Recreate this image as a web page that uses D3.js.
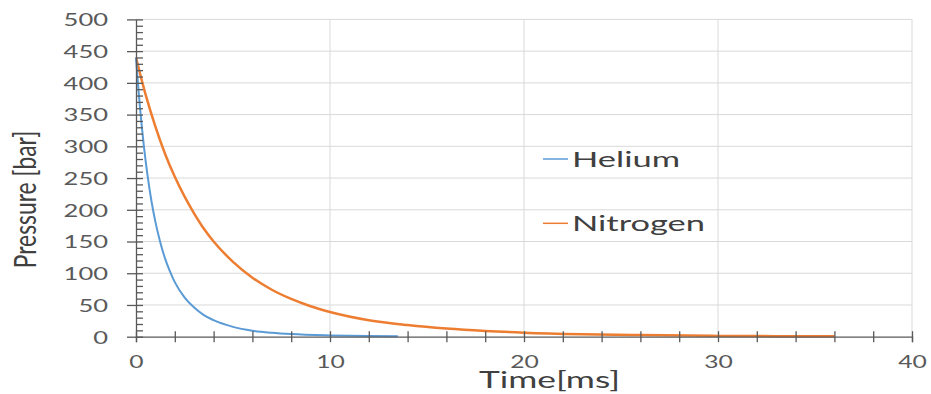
<!DOCTYPE html>
<html>
<head>
<meta charset="utf-8">
<script src="https://cdn.jsdelivr.net/npm/d3@7"></script>
<style>
  html, body { margin: 0; padding: 0; background: #ffffff; }
  svg { display: block; }
  text { font-family: Lato, "Open Sans", sans-serif; }
</style>
</head>
<body>
<svg id="chart" width="931" height="394"></svg>
<script>
// ---- data ----
const seriesNames = ["Helium", "Nitrogen"];
const heliumTime = [0, 0.1, 0.2, 0.3, 0.4, 0.6, 0.8, 1.0, 1.25, 1.5, 1.75, 2.0, 2.5, 3.0, 3.5, 4.0, 5.0, 6.0, 7.0, 8.0, 10.0, 12.0, 13.5];
const heliumPressure = [440, 399, 363, 331, 302, 253, 213, 181, 149, 123, 103, 86, 62, 46, 34, 26, 15.5, 9.5, 6.2, 4.1, 2.0, 1.0, 0.7];
const nitrogenTime = [0, 0.5, 1, 1.5, 2, 2.5, 3, 3.5, 4, 5, 6, 7, 8, 9, 10, 12, 14, 16, 18, 20, 23, 26, 30, 33, 36];
const nitrogenPressure = [440, 381, 331, 288, 252, 221, 194, 170, 150, 118, 93, 74, 59.5, 48, 39, 26, 18.3, 12.8, 9.0, 6.4, 4.0, 2.6, 1.3, 0.9, 0.6];
const xTickValues = [0, 2, 4, 6, 8, 10, 12, 14, 16, 18, 20, 22, 24, 26, 28, 30, 32, 34, 36, 38, 40];
const xTickLabels = ["0", "10", "20", "30", "40"];
const yTickLabels = ["0", "50", "100", "150", "200", "250", "300", "350", "400", "450", "500"];
const xTitle = "Time[ms]";
const yTitle = "Pressure [bar]";
const colors = ["#5B9BD5", "#ED7D31"];

// ---- layout ----
const svg = d3.select("#chart");
const x = d3.scaleLinear().domain([0, 40]).range([136, 912]);
const y = d3.scaleLinear().domain([0, 500]).range([336.7, 19.4]);
const axisColor = "#595959";
const textColor = "#595959";

svg.append("rect").attr("width", 931).attr("height", 394).attr("fill", "#fff");

// gridlines
const gridY = yTickLabels.map(Number).filter(v => v > 0);
svg.append("g").selectAll("line").data(gridY).join("line")
  .attr("x1", x(0)).attr("x2", x(40))
  .attr("y1", d => y(d)).attr("y2", d => y(d))
  .attr("stroke", "#d9d9d9").attr("stroke-width", 1);
const gridX = xTickLabels.map(Number).filter(v => v > 0);
svg.append("g").selectAll("line").data(gridX).join("line")
  .attr("x1", d => x(d)).attr("x2", d => x(d))
  .attr("y1", y(0)).attr("y2", y(500))
  .attr("stroke", "#d9d9d9").attr("stroke-width", 1);

// series
const line = d3.line().x(d => x(d[0])).y(d => y(d[1])).curve(d3.curveMonotoneX);
const heData = heliumTime.map((t, i) => [t, heliumPressure[i]]);
const n2Data = nitrogenTime.map((t, i) => [t, nitrogenPressure[i]]);
svg.append("path").datum(n2Data).attr("d", line)
  .attr("fill", "none").attr("stroke", colors[1]).attr("stroke-width", 2.5)
  .attr("stroke-linejoin", "round");
svg.append("path").datum(heData).attr("d", line)
  .attr("fill", "none").attr("stroke", colors[0]).attr("stroke-width", 2)
  .attr("stroke-linejoin", "round");

// x axis
const xLabelSet = new Set(xTickLabels.map(Number));
const xAxis = d3.axisBottom(x).tickValues(xTickValues).tickSize(5.5)
  .tickFormat(d => xLabelSet.has(d) ? String(d) : "");
const gx = svg.append("g").attr("transform", `translate(0,${y(0)})`).call(xAxis);
gx.select(".domain").attr("stroke", axisColor).attr("stroke-width", 1.3);
gx.selectAll(".tick line").attr("y1", -5.5).attr("y2", 5.5)
  .attr("stroke", axisColor).attr("stroke-width", 1.3);
gx.selectAll(".tick text")
  .attr("y", 31.5).attr("dy", 0)
  .attr("fill", textColor)
  .style("font-size", "16.5px")
  .each(function () {
    const s = d3.select(this).text();
    if (s) d3.select(this).attr("textLength", s.length * 14.3).attr("lengthAdjust", "spacingAndGlyphs");
  });
gx.attr("font-size", null).attr("font-family", null);

// y axis
const yLabelSet = new Set(yTickLabels.map(Number));
const yAxis = d3.axisLeft(y).tickValues(d3.range(0, 501, 10)).tickSize(0)
  .tickFormat(d => yLabelSet.has(d) ? String(d) : "");
const gy = svg.append("g").attr("transform", `translate(${x(0)},0)`).call(yAxis);
gy.select(".domain").attr("stroke", axisColor).attr("stroke-width", 1.3);
gy.selectAll(".tick line")
  .attr("x1", d => yLabelSet.has(d) ? -9 : 0)
  .attr("x2", 7)
  .attr("stroke", axisColor).attr("stroke-width", 1.3);
gy.selectAll(".tick text")
  .attr("x", -28).attr("dy", "0.36em")
  .attr("fill", textColor)
  .style("font-size", "17.5px")
  .each(function () {
    const s = d3.select(this).text();
    if (s) d3.select(this).attr("textLength", s.length * 14.8).attr("lengthAdjust", "spacingAndGlyphs");
  });
gy.attr("font-size", null).attr("font-family", null);

// axis titles
svg.append("text").text(xTitle)
  .attr("x", 479).attr("y", 387.5)
  .attr("fill", "#404040")
  .style("font-size", "22.5px")
  .attr("textLength", 141).attr("lengthAdjust", "spacingAndGlyphs");

svg.append("text").text(yTitle)
  .attr("transform", "translate(36,199.5) scale(1.4,1) rotate(-90)")
  .attr("text-anchor", "middle")
  .attr("fill", "#404040")
  .style("font-size", "22.5px")
  .attr("textLength", 137.6).attr("lengthAdjust", "spacingAndGlyphs");

// legend
const legendY = [159, 223.3];
const legendW = [108, 133];
const lg = svg.append("g").selectAll("g").data(seriesNames).join("g");
lg.append("line")
  .attr("x1", 543).attr("x2", 568)
  .attr("y1", (d, i) => legendY[i]).attr("y2", (d, i) => legendY[i])
  .attr("stroke", (d, i) => colors[i]).attr("stroke-width", 1.5);
lg.append("text").text(d => d)
  .attr("x", 572).attr("y", (d, i) => legendY[i] + 8)
  .attr("fill", "#404040")
  .style("font-size", "21.5px")
  .attr("textLength", (d, i) => legendW[i]).attr("lengthAdjust", "spacingAndGlyphs");
</script>
</body>
</html>
